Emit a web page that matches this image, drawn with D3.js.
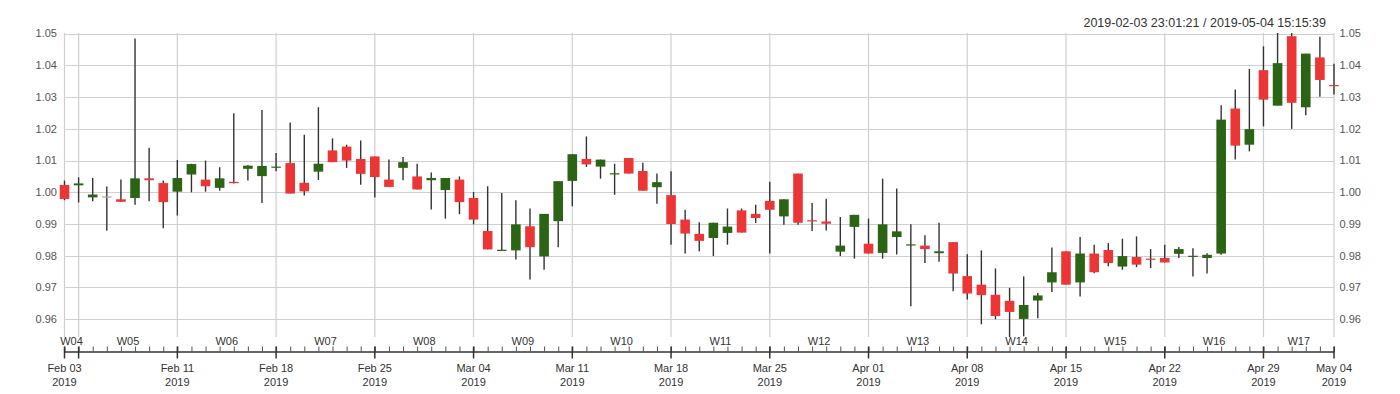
<!DOCTYPE html>
<html>
<head>
<meta charset="utf-8">
<script src="https://cdnjs.cloudflare.com/ajax/libs/d3/7.8.5/d3.min.js"></script>
<style>
	body { margin: 0; background: #fff; }
	text { font-family: "Liberation Sans", Arial, sans-serif; }
</style>
</head>
<body>
<div id="chart"></div>
<script>
// daily candles, Feb 03 .. May 04 2019
var days = [
	'2019-02-03','2019-02-04','2019-02-05','2019-02-06','2019-02-07','2019-02-08','2019-02-09','2019-02-10',
	'2019-02-11','2019-02-12','2019-02-13','2019-02-14','2019-02-15','2019-02-16','2019-02-17',
	'2019-02-18','2019-02-19','2019-02-20','2019-02-21','2019-02-22','2019-02-23','2019-02-24',
	'2019-02-25','2019-02-26','2019-02-27','2019-02-28','2019-03-01','2019-03-02','2019-03-03',
	'2019-03-04','2019-03-05','2019-03-06','2019-03-07','2019-03-08','2019-03-09','2019-03-10',
	'2019-03-11','2019-03-12','2019-03-13','2019-03-14','2019-03-15','2019-03-16','2019-03-17',
	'2019-03-18','2019-03-19','2019-03-20','2019-03-21','2019-03-22','2019-03-23','2019-03-24',
	'2019-03-25','2019-03-26','2019-03-27','2019-03-28','2019-03-29','2019-03-30','2019-03-31',
	'2019-04-01','2019-04-02','2019-04-03','2019-04-04','2019-04-05','2019-04-06','2019-04-07',
	'2019-04-08','2019-04-09','2019-04-10','2019-04-11','2019-04-12','2019-04-13','2019-04-14',
	'2019-04-15','2019-04-16','2019-04-17','2019-04-18','2019-04-19','2019-04-20','2019-04-21',
	'2019-04-22','2019-04-23','2019-04-24','2019-04-25','2019-04-26','2019-04-27','2019-04-28',
	'2019-04-29','2019-04-30','2019-05-01','2019-05-02','2019-05-03','2019-05-04'
];
var open = [
	1.0023,1.0022,0.9984,0.9987,0.9978,0.9982,1.0044,1.0029,
	1.0002,1.0056,1.0040,1.0014,1.0033,1.0074,1.0051,
	1.0079,1.0092,1.0030,1.0065,1.0132,1.0144,1.0105,
	1.0113,1.0040,1.0077,1.0050,1.0038,1.0007,1.0040,
	0.9982,0.9878,0.9817,0.9817,0.9893,0.9798,0.9909,
	1.0036,1.0105,1.0081,1.0057,1.0108,1.0067,1.0016,
	0.9991,0.9914,0.9869,0.9856,0.9872,0.9943,0.9932,
	0.9973,0.9924,1.0059,0.9912,0.9908,0.9813,0.9891,
	0.9838,0.9809,0.9859,0.9834,0.9832,0.9808,0.9843,
	0.9736,0.9709,0.9677,0.9658,0.9601,0.9659,0.9716,
	0.9814,0.9716,0.9807,0.9818,0.9766,0.9796,0.9791,
	0.9793,0.9806,0.9797,0.9793,0.9807,1.0264,1.0150,
	1.0385,1.0273,1.0492,1.0268,1.0425,1.0338
];
var high = [
	1.0037,1.0047,1.0045,1.0018,1.0040,1.0485,1.0140,1.0037,
	1.0102,1.0090,1.0100,1.0079,1.0249,1.0086,1.0259,
	1.0124,1.0220,1.0181,1.0268,1.0170,1.0150,1.0163,
	1.0113,1.0103,1.0111,1.0090,1.0062,1.0045,1.0050,
	1.0001,1.0019,0.9998,0.9975,0.9949,0.9932,1.0035,
	1.0120,1.0176,1.0103,1.0090,1.0108,1.0093,1.0059,
	1.0066,0.9945,0.9906,0.9904,0.9949,0.9949,0.9961,
	1.0033,0.9978,1.0059,0.9966,0.9980,0.9922,0.9929,
	0.9917,1.0043,1.0012,0.9899,0.9865,0.9904,0.9843,
	0.9805,0.9817,0.9760,0.9699,0.9735,0.9683,0.9826,
	0.9814,0.9859,0.9835,0.9840,0.9854,0.9861,0.9821,
	0.9835,0.9828,0.9824,0.9808,1.0274,1.0324,1.0389,
	1.0460,1.0502,1.0502,1.0437,1.0490,1.0405
];
var low = [
	0.9975,0.9968,0.9972,0.9879,0.9970,0.9961,0.9972,0.9887,
	0.9927,1.0000,1.0002,1.0005,1.0028,1.0037,0.9966,
	1.0066,0.9996,0.9990,1.0039,1.0095,1.0077,1.0024,
	0.9984,1.0017,1.0038,1.0009,0.9946,0.9917,0.9931,
	0.9899,0.9820,0.9817,0.9788,0.9725,0.9756,0.9827,
	0.9956,1.0080,1.0043,0.9992,1.0059,1.0005,0.9964,
	0.9835,0.9807,0.9814,0.9799,0.9835,0.9873,0.9903,
	0.9807,0.9898,0.9898,0.9878,0.9880,0.9799,0.9791,
	0.9807,0.9791,0.9804,0.9641,0.9777,0.9781,0.9688,
	0.9662,0.9584,0.9600,0.9544,0.9546,0.9603,0.9686,
	0.9709,0.9672,0.9745,0.9767,0.9756,0.9764,0.9761,
	0.9779,0.9793,0.9735,0.9744,0.9803,1.0103,1.0129,
	1.0208,1.0273,1.0200,1.0243,1.0301,1.0308
];
var close = [
	0.9979,1.0028,0.9993,0.9987,0.9970,1.0044,1.0038,0.9969,
	1.0045,1.0089,1.0019,1.0044,1.0029,1.0084,1.0083,
	1.0081,0.9996,1.0003,1.0090,1.0095,1.0100,1.0058,
	1.0048,1.0017,1.0095,1.0009,1.0045,1.0045,0.9969,
	0.9914,0.9820,0.9819,0.9899,0.9827,0.9932,1.0035,
	1.0120,1.0088,1.0103,1.0060,1.0059,1.0005,1.0032,
	0.9900,0.9870,0.9847,0.9904,0.9892,0.9873,0.9919,
	0.9945,0.9978,0.9904,0.9909,0.9901,0.9832,0.9929,
	0.9807,0.9899,0.9877,0.9836,0.9821,0.9814,0.9744,
	0.9681,0.9676,0.9610,0.9623,0.9645,0.9675,0.9748,
	0.9709,0.9807,0.9748,0.9777,0.9799,0.9772,0.9789,
	0.9779,0.9821,0.9800,0.9803,1.0229,1.0147,1.0199,
	1.0292,1.0407,1.0282,1.0437,1.0354,1.0335
];
var yTicks = [0.96, 0.97, 0.98, 0.99, 1.00, 1.01, 1.02, 1.03, 1.04, 1.05];
var rangeLabel = '2019-02-03 23:01:21 / 2019-05-04 15:15:39';

var width = 1400,
		height = 394;
var margin = {top: 33, right: 66, bottom: 57, left: 64.5};
var axisY = 351.5;

var parse = d3.utcParse('%Y-%m-%d');
var dates = days.map(parse);

var svg = d3.select('#chart').append('svg')
	.attr('width', width)
	.attr('height', height);

var x = d3.scaleUtc()
	.domain([dates[0], dates[dates.length - 1]])
	.range([margin.left, width - margin.right]);
var y = d3.scaleLinear()
	.domain([d3.min(low), d3.max(high)])
	.range([height - margin.bottom, margin.top]);

var start = x.domain()[0],
		end = x.domain()[1];
// week boundaries: edges plus every monday in between
var mondays = d3.utcMonday.range(d3.utcDay.offset(start, 1), end);
var bounds = [start].concat(mondays).concat([end]);

// horizontal grid
svg.append('g')
	.selectAll('line')
	.data(yTicks)
	.enter().append('line')
	.attr('x1', x.range()[0])
	.attr('x2', x.range()[1])
	.attr('y1', function(d) { return Math.round(y(d)) + 0.5; })
	.attr('y2', function(d) { return Math.round(y(d)) + 0.5; })
	.attr('stroke', '#cfcfcf')
	.attr('stroke-width', 1.2);

// vertical grid
svg.append('g')
	.selectAll('line')
	.data(bounds)
	.enter().append('line')
	.attr('x1', function(d) { return x(d); })
	.attr('x2', function(d) { return x(d); })
	.attr('y1', y.range()[1])
	.attr('y2', y.range()[0])
	.attr('stroke', '#cfcfcf')
	.attr('stroke-width', 1.2);

// y labels, both sides
['left', 'right'].forEach(function(side) {
	svg.append('g')
		.selectAll('text')
		.data(yTicks)
		.enter().append('text')
		.attr('x', side === 'left' ? x.range()[0] - 7.5 : x.range()[1] + 5.5)
		.attr('y', function(d) { return y(d); })
		.attr('dy', '0.35em')
		.attr('text-anchor', side === 'left' ? 'end' : 'start')
		.attr('font-size', 11)
		.attr('fill', '#555')
		.text(function(d) { return d3.format('.2f')(d); });
});

// candles
var candles = svg.append('g')
	.selectAll('g')
	.data(dates)
	.enter().append('g');

candles.append('line')
	.attr('x1', function(d) { return x(d); })
	.attr('x2', function(d) { return x(d); })
	.attr('y1', function(d, i) { return y(high[i]); })
	.attr('y2', function(d, i) { return y(low[i]); })
	.attr('stroke', '#333')
	.attr('stroke-width', 1.4);

candles.append('rect')
	.attr('x', function(d) { return x(d) - 4.8; })
	.attr('width', 9.6)
	.attr('y', function(d, i) { return y(Math.max(open[i], close[i])); })
	.attr('height', function(d, i) { return Math.max(1.2, Math.abs(y(open[i]) - y(close[i]))); })
	.attr('fill', function(d, i) {
		if (close[i] > open[i]) return '#2c6415';
		if (close[i] < open[i]) return '#ec3636';
		return '#aaa';
	});

// x axis with daily minor ticks
svg.append('g')
	.attr('transform', 'translate(0,' + axisY + ')')
	.call(d3.axisBottom(x)
		.ticks(d3.utcDay.every(1))
		.tickSize(-5)
		.tickSizeOuter(0)
		.tickFormat(''))
	.call(function(g) {
		g.select('.domain').attr('stroke', '#333').attr('stroke-width', 1.5);
		g.selectAll('.tick line').attr('stroke', '#555').attr('stroke-width', 1);
	});

// major ticks at week bounds
svg.append('g')
	.selectAll('line')
	.data(bounds)
	.enter().append('line')
	.attr('x1', function(d) { return x(d); })
	.attr('x2', function(d) { return x(d); })
	.attr('y1', axisY - 5)
	.attr('y2', axisY + 7)
	.attr('stroke', '#333')
	.attr('stroke-width', 1.5);

// week names centered in each week
var weekFmt = d3.utcFormat('W%W');
var weeks = bounds.slice(0, -1).map(function(d, i) { return [d, bounds[i + 1]]; });
svg.append('g')
	.selectAll('text')
	.data(weeks)
	.enter().append('text')
	.attr('x', function(d) { return (x(d[0]) + x(d[1])) / 2; })
	.attr('y', 345)
	.attr('text-anchor', 'middle')
	.attr('font-size', 11)
	.attr('fill', '#333')
	.text(function(d) { return weekFmt(d[0]); });

// date labels, skip ones crowding the edges
var labelDates = bounds.filter(function(d, i) {
	if (i === 0 || i === bounds.length - 1) return true;
	return x(d) - x.range()[0] > 40 && x.range()[1] - x(d) > 40;
});
var dateLabels = svg.append('g')
	.selectAll('text')
	.data(labelDates)
	.enter().append('text')
	.attr('text-anchor', 'middle')
	.attr('font-size', 11)
	.attr('fill', '#333');
dateLabels.append('tspan')
	.attr('x', function(d) { return x(d); })
	.attr('y', 372)
	.text(d3.utcFormat('%b %d'));
dateLabels.append('tspan')
	.attr('x', function(d) { return x(d); })
	.attr('y', 386)
	.text(d3.utcFormat('%Y'));

svg.append('text')
	.attr('x', 1326)
	.attr('y', 26.5)
	.attr('text-anchor', 'end')
	.attr('font-size', 12.5)
	.attr('fill', '#333')
	.text(rangeLabel);
</script>
</body>
</html>
